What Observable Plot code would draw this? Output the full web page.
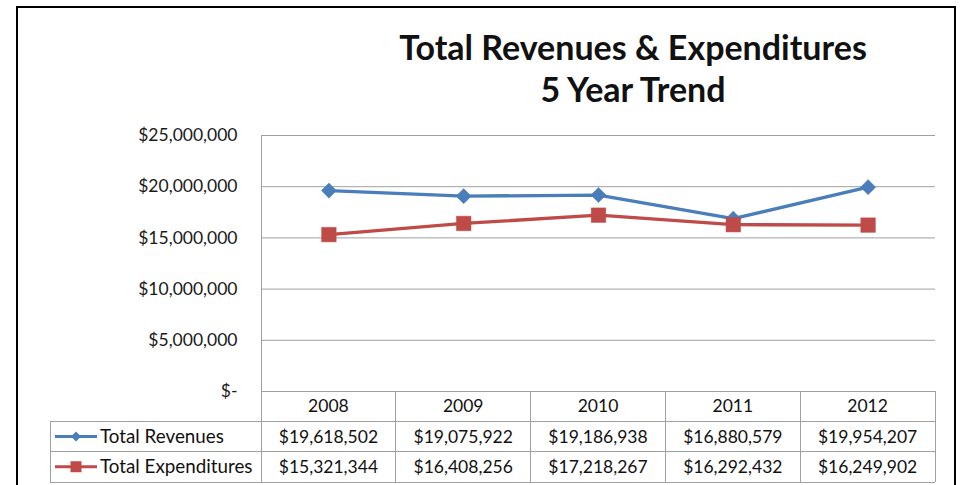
<!DOCTYPE html>
<html>
<head>
<meta charset="utf-8">
<script src="https://cdn.jsdelivr.net/npm/d3@7"></script>
<script src="https://cdn.jsdelivr.net/npm/@observablehq/plot@0.6"></script>
<style>
  html, body { margin: 0; padding: 0; background: #fff; }
  #chart { position: relative; width: 961px; height: 485px; overflow: hidden; font-family: Lato, sans-serif; background: #fff; }
  #frame { position: absolute; left: 16px; top: 6px; width: 940px; height: 540px; border: 2px solid #000; box-sizing: border-box; }
  .title { position: absolute; left: 283px; width: 700px; text-align: center; font-family: Lato, sans-serif; font-weight: bold; font-size: 34px; line-height: 42px; color: #111; white-space: nowrap; }
  #plot, #table { position: absolute; left: 0; top: 0; }
</style>
</head>
<body>
<div id="chart">
  <div id="frame"></div>
  <div class="title" id="t1" style="top:26px">Total Revenues &amp; Expenditures</div>
  <div class="title" id="t2" style="top:67.5px">5 Year Trend</div>
  <div id="plot"></div>
  <svg id="table" width="961" height="485"></svg>
</div>
<script>
// ---- data ----
const years = [2008, 2009, 2010, 2011, 2012];
const revenues = [19618502, 19075922, 19186938, 16880579, 19954207];
const expenditures = [15321344, 16408256, 17218267, 16292432, 16249902];
const seriesNames = ["Total Revenues", "Total Expenditures"];
const seriesColors = ["#4a7ebb", "#be4b48"];
const yTicks = [0, 5000000, 10000000, 15000000, 20000000, 25000000];

const money = d3.format("$,");
const tickFmt = d => d === 0 ? "$-" : money(d);

const revRows = years.map((y, i) => ({year: y, value: revenues[i], series: seriesNames[0]}));
const expRows = years.map((y, i) => ({year: y, value: expenditures[i], series: seriesNames[1]}));
const rows = revRows.concat(expRows);

const grid = "#a0a0a0";
const xDomain = [years[0] - 0.5, years[years.length - 1] + 0.5];

const plot = Plot.plot({
  width: 961,
  height: 392,
  marginTop: 135,
  marginBottom: 1,
  marginLeft: 261,
  marginRight: 26,
  style: {fontFamily: "Lato, sans-serif", fontSize: "17.5px", color: "#1a1a1a", background: "transparent", overflow: "visible"},
  x: {domain: xDomain, axis: null},
  y: {domain: [0, 25000000], axis: null},
  color: {domain: seriesNames, range: seriesColors},
  marks: [
    Plot.ruleY(yTicks, {stroke: grid, strokeWidth: 1}),
    Plot.ruleX([xDomain[0]], {stroke: grid, strokeWidth: 1}),
    Plot.axisY(yTicks, {tickSize: 0, tickPadding: 24, tickFormat: tickFmt, fontSize: 17.5, label: null}),
    Plot.line(rows, {x: "year", y: "value", z: "series", stroke: "series", strokeWidth: 3.3}),
    Plot.dot(revRows, {x: "year", y: "value", symbol: "diamond2", r: 6.8, fill: "series", stroke: "series", strokeWidth: 0.5}),
    Plot.dot(expRows, {x: "year", y: "value", symbol: "square", r: 8.2, fill: "series", stroke: "series", strokeWidth: 0.5})
  ]
});
document.getElementById("plot").appendChild(plot);

// ---- data table (legend + values), aligned on the plot's x scale ----
const xs = plot.scale("x");
const X = v => xs.apply(v);
const svg = d3.select("#table");
const yTop = 391, r1 = 421.5, r2 = 451.5, r3 = 482;
const legendLeft = 50;
const xRight = X(xDomain[1]);
const lines = svg.append("g").attr("stroke", grid).attr("stroke-width", 1).attr("shape-rendering", "crispEdges");
[r1, r2, r3].forEach(y => lines.append("line").attr("x1", legendLeft).attr("x2", xRight).attr("y1", y).attr("y2", y));
lines.append("line").attr("x1", legendLeft).attr("x2", legendLeft).attr("y1", r1).attr("y2", r3);
years.forEach(y => {
  const xb = X(y - 0.5);
  lines.append("line").attr("x1", xb).attr("x2", xb).attr("y1", yTop).attr("y2", r3);
});
lines.append("line").attr("x1", xRight).attr("x2", xRight).attr("y1", yTop).attr("y2", r3);

const txt = svg.append("g").attr("font-family", "Lato, sans-serif").attr("font-size", 17.5).attr("fill", "#111");
years.forEach((y, i) => {
  txt.append("text").attr("x", X(y)).attr("y", (yTop + r1) / 2).attr("dy", "0.35em").attr("text-anchor", "middle").text(y);
  txt.append("text").attr("x", X(y)).attr("y", (r1 + r2) / 2).attr("dy", "0.35em").attr("text-anchor", "middle").text(money(revenues[i]));
  txt.append("text").attr("x", X(y)).attr("y", (r2 + r3) / 2).attr("dy", "0.35em").attr("text-anchor", "middle").text(money(expenditures[i]));
});
// legend keys
[[r1, r2], [r2, r3]].forEach(([a, b], k) => {
  const cy = (a + b) / 2;
  svg.append("line").attr("x1", 55).attr("x2", 97).attr("y1", cy).attr("y2", cy)
    .attr("stroke", seriesColors[k]).attr("stroke-width", 3);
  if (k === 0) {
    svg.append("path").attr("d", `M76,${cy - 5}L81,${cy}L76,${cy + 5}L71,${cy}Z`).attr("fill", seriesColors[k]);
  } else {
    svg.append("rect").attr("x", 70.5).attr("y", cy - 5.5).attr("width", 11).attr("height", 11).attr("fill", seriesColors[k]);
  }
  txt.append("text").attr("x", 100).attr("y", cy).attr("dy", "0.35em").attr("font-size", 18.8).text(seriesNames[k]);
});
</script>
</body>
</html>
